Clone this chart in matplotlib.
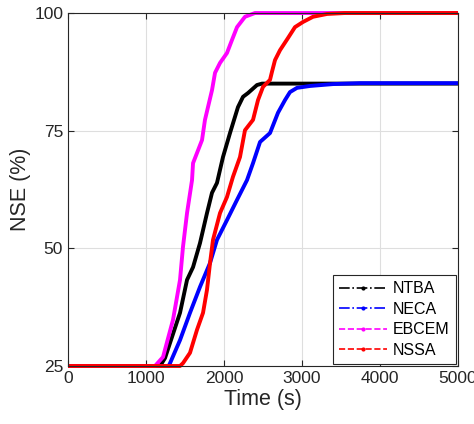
import matplotlib
matplotlib.use('Agg')
import matplotlib.pyplot as plt
from matplotlib.lines import Line2D

plt.rcParams['font.family'] = ['Liberation Sans', 'DejaVu Sans']

# values (time in s, NSE in %)
t_ntba = [0, 1180, 1244, 1308, 1436, 1526, 1603, 1692, 1782, 1846, 1910, 1987,
          2077, 2179, 2244, 2308, 2423, 2487, 5000]
v_ntba = [25, 25, 26.7, 29.9, 36.3, 43.3, 46.0, 51.1, 57.5, 61.8, 63.9, 69.4,
          74.5, 80.0, 82.2, 83.0, 84.7, 85.0, 85.0]

t_neca = [0, 1290, 1308, 1436, 1564, 1692, 1821, 1910, 2038, 2167, 2295, 2372,
          2462, 2590, 2692, 2782, 2846, 2936, 3103, 3397, 3744, 5000]
v_neca = [25, 25, 25.6, 30.5, 36.3, 41.8, 46.9, 51.8, 56.0, 60.3, 64.5, 68.1,
          72.6, 74.5, 78.8, 81.5, 83.2, 84.1, 84.5, 84.9, 85.1, 85.1]

t_ebcem = [0, 1115, 1218, 1346, 1436, 1474, 1526, 1590, 1603, 1718, 1756, 1846,
           1885, 1949, 2038, 2103, 2167, 2269, 2397, 5000]
v_ebcem = [25, 25, 26.9, 34.8, 43.3, 50.3, 57.5, 64.5, 68.1, 73.0, 77.3, 83.6,
           87.3, 89.4, 91.5, 94.3, 97.0, 99.2, 100, 100]

t_nssa = [0, 1436, 1474, 1564, 1654, 1731, 1782, 1821, 1859, 1949, 2038, 2115,
          2205, 2269, 2372, 2436, 2500, 2590, 2615, 2654, 2718, 2821, 2910, 3013,
          3141, 3321, 3551, 5000]
v_nssa = [25, 25, 25.6, 27.8, 32.7, 36.3, 41.2, 46.9, 51.8, 57.5, 60.9, 65.2,
          69.4, 75.1, 77.3, 81.5, 84.3, 85.8, 87.5, 90.0, 92.1, 94.7, 97.0, 98.1,
          99.2, 99.8, 100, 100]

names = ['NTBA', 'NECA', 'EBCEM', 'NSSA']
colors = ['black', 'blue', 'magenta', 'red']
styles = ['-.', '-.', '--', '--']
series = [(t_ntba, v_ntba), (t_neca, v_neca), (t_ebcem, v_ebcem), (t_nssa, v_nssa)]

fig = plt.figure(figsize=(4.74, 4.24), dpi=100)
ax = fig.add_axes([0.1435, 0.1368, 0.8227, 0.8325])

for (t, v), c in zip(series, colors):
    ax.plot(t, v, color=c, linewidth=2.8, solid_joinstyle='round',
            solid_capstyle='butt', clip_on=False)

ax.set_xlim(0, 5000)
ax.set_ylim(25, 100)
ax.set_xticks([0, 1000, 2000, 3000, 4000, 5000])
ax.set_yticks([25, 50, 75, 100])
ax.grid(True, color='#dedede', linewidth=0.8)
ax.set_axisbelow(True)
ax.tick_params(direction='in', top=True, right=True, labelsize=12.5, colors='#262626',
               length=4, width=0.8)
for s in ax.spines.values():
    s.set_color('#262626')
    s.set_linewidth(0.8)
ax.set_xlabel('Time (s)', fontsize=15.5, color='#262626', labelpad=2)
ax.set_ylabel('NSE (%)', fontsize=15.5, color='#262626', labelpad=2)

handles = [Line2D([], [], color=c, linestyle=ls, marker='.', markersize=4, linewidth=1.2)
           for c, ls in zip(colors, styles)]
leg = ax.legend(handles, names, loc='lower right', fontsize=11.5, frameon=True,
                fancybox=False, edgecolor='#262626', framealpha=1,
                borderaxespad=0.1, handlelength=3.0, labelspacing=0.35, handletextpad=0.4)
leg.get_frame().set_linewidth(0.8)
leg.set_zorder(5)

fig.savefig('out.png', dpi=100)
